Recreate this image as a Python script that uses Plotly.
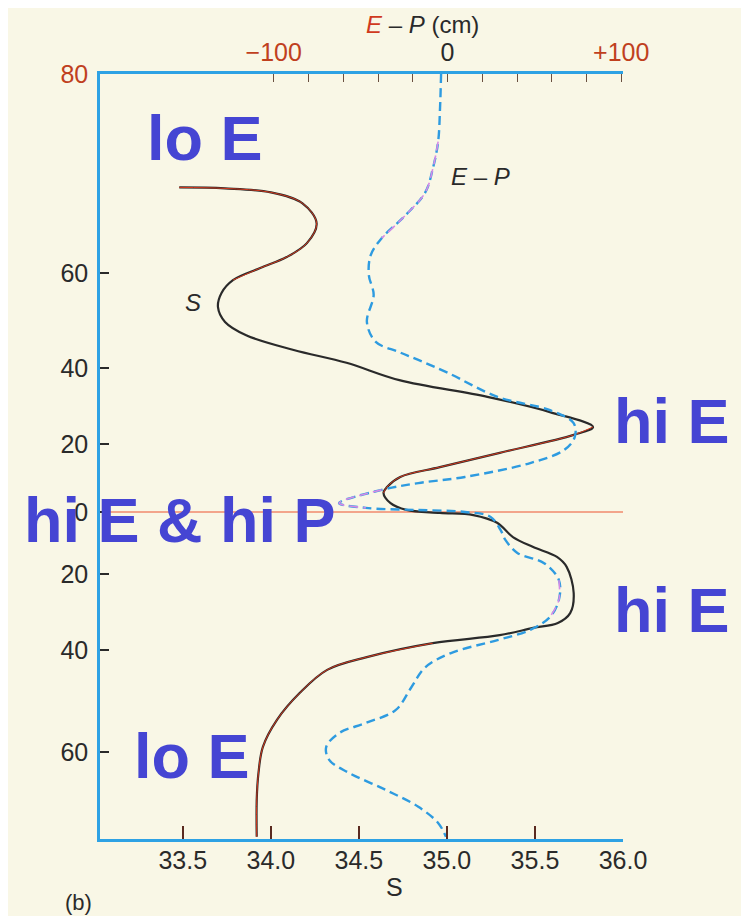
import numpy as np
import plotly.graph_objects as go

# ---------------- data ----------------
# latitude scale of the original figure (tick latitudes and their relative axis position)
LAT_TICKS = [-80, -60, -40, -20, 0, 20, 40, 60, 80]
SCALE_POS = [0.0, 0.1137, 0.2471, 0.3464, 0.4275, 0.5163, 0.6157, 0.7399, 1.0]
Y_TICK_LATS = [80, 60, 40, 20, 0, -20, -40, -60]
Y_TICK_TEXT = ["<span style='color:#c0401e'>80</span>", "60", "40", "20", "0", "20", "40", "60"]

S_TICKS = [33.5, 34.0, 34.5, 35.0, 35.5, 36.0]
S_TICK_TEXT = ["33.5", "34.0", "34.5", "35.0", "35.5", "36.0"]
EP_TICKS = [-100, -80, -60, -40, -20, 0, 20, 40, 60, 80, 100]
EP_TICK_TEXT = ["<span style='color:#c0401e'>−100</span>", "", "", "", "", "0", "", "", "", "",
                "<span style='color:#c0401e'>+100</span>"]

# surface salinity S vs latitude
s_lat = [68.6, 68.5, 68.1, 67.0, 65.0, 63.0, 61.6, 60.5, 58.5, 55.8, 52.8, 49.7,
         46.9, 43.8, 41.1, 36.8, 32.4, 28.4, 24.5, 22.4, 17.4, 13.2, 10.3, 7.35,
         5.6, 2.6, 0.6, -0.3, -1.0, -3.5, -8.1, -11.3, -14.5, -17.7, -25.0, -30.3,
         -32.9, -34.2, -36.1, -38.2, -41.4, -43.9, -48.4, -53.7, -59.0, -64.8,
         -71.0, -79.5]
s_val = [33.48, 33.74, 34.00, 34.18, 34.26, 34.205, 34.09, 33.94, 33.785, 33.72,
         33.70, 33.74, 33.86, 34.13, 34.43, 34.73, 35.23, 35.585, 35.83, 35.72,
         35.30, 34.96, 34.735, 34.66, 34.64, 34.68, 34.77, 34.96, 35.15, 35.285,
         35.375, 35.49, 35.625, 35.68, 35.72, 35.70, 35.63, 35.49, 35.30, 34.92,
         34.545, 34.32, 34.165, 34.035, 33.955, 33.93, 33.92, 33.92]

# evaporation minus precipitation (cm) vs latitude
ep_lat = [80.0, 76.6, 73.2, 70.6, 68.1, 65.8, 63.5, 61.8, 59.6, 55.4, 49.7, 45.5,
          43.4, 41.7, 38.7, 32.4, 28.9, 25.5, 21.8, 18.2, 14.4, 10.3, 8.5, 6.5,
          2.6, 1.2, 0.6, 0.0, -1.6, -5.8, -9.0, -13.2, -16.5, -21.6, -26.8, -31.3,
          -34.7, -37.4, -40.6, -43.4, -47.3, -51.8, -54.3, -56.3, -59.0, -61.8,
          -64.8, -68.7, -72.6, -76.3, -79.5]
ep_val = [-3.7, -4.3, -5.4, -8.3, -12.8, -24.2, -37.9, -44.2, -45.3, -42.5, -46.4,
          -41.3, -28.2, -16.8, 0.3, 28.8, 59.0, 72.6, 73.2, 67.0, 47.6, 10.0, -16.8,
          -37.9, -62.4, -47.0, -18.5, 10.0, 24.8, 30.5, 33.3, 40.2, 55.6, 64.1, 64.1,
          59.0, 47.6, 28.8, 2.0, -12.8, -20.8, -29.9, -47.0, -62.4, -69.8, -68.1,
          -56.7, -35.6, -16.8, -5.4, -0.9]


def ypos(lat):
    return np.interp(np.asarray(lat, dtype=float), LAT_TICKS, SCALE_POS)


BLUE_AX = "#2ea2e4"
DARK = "#2a2a2a"
FONT = "Liberation Sans, Arial"
ANN_BLUE = "#4545d3"

s_lat_a = np.array(s_lat)
s_val_a = np.array(s_val)
ep_lat_a = np.array(ep_lat)
ep_val_a = np.array(ep_val)

fig = go.Figure()

# E-P dashed line (top axis)
fig.add_trace(go.Scatter(x=ep_val_a, y=ypos(ep_lat_a), xaxis="x2", yaxis="y",
                         mode="lines", line=dict(color="#2e9be0", width=2.4, dash="9px,5px",
                                                 shape="spline", smoothing=1.0),
                         hoverinfo="skip", showlegend=False))
# pinkish tints on parts of E-P
for lo, hi in [(63.0, 74.0), (0.8, 7.0), (-33.0, -20.0)]:
    m = (ep_lat_a >= lo) & (ep_lat_a <= hi)
    fig.add_trace(go.Scatter(x=ep_val_a[m], y=ypos(ep_lat_a[m]), xaxis="x2", yaxis="y",
                             mode="lines", line=dict(color="#d58ae6", width=1.6, dash="9px,5px",
                                                     shape="spline", smoothing=1.0),
                             hoverinfo="skip", showlegend=False))

# salinity solid line (bottom axis)
fig.add_trace(go.Scatter(x=s_val_a, y=ypos(s_lat_a), xaxis="x", yaxis="y",
                         mode="lines", line=dict(color=DARK, width=2.2, shape="spline", smoothing=1.0),
                         hoverinfo="skip", showlegend=False))
for lo, hi in [(58.5, 68.6), (5.6, 24.5), (-80.0, -38.2)]:
    m = (s_lat_a >= lo) & (s_lat_a <= hi)
    fig.add_trace(go.Scatter(x=s_val_a[m], y=ypos(s_lat_a[m]), xaxis="x", yaxis="y",
                             mode="lines", line=dict(color="#d2381c", width=1.0, shape="spline", smoothing=1.0),
                             hoverinfo="skip", showlegend=False))

# equator line
fig.add_shape(type="line", xref="paper", yref="y", x0=0, x1=1,
              y0=float(ypos(0)), y1=float(ypos(0)), line=dict(color="#f08a6c", width=1.6), layer="below")

fig.update_layout(
    width=741, height=908,
    margin=dict(l=92, r=126, t=66, b=77),
    paper_bgcolor="#f9f7e6", plot_bgcolor="rgba(0,0,0,0)",
    font=dict(family=FONT, color=DARK, size=25),
    xaxis=dict(range=[33.03, 36.0], tickvals=S_TICKS, ticktext=S_TICK_TEXT,
               ticks="inside", ticklen=13, tickwidth=1.5, tickcolor="#5a2a20",
               showline=True, linecolor=BLUE_AX, linewidth=2.5, showgrid=False,
               zeroline=False, tickfont=dict(size=25, color=DARK), ticklabelstandoff=-3),
    xaxis2=dict(range=[-200, 101], overlaying="x", side="top", anchor="y",
                tickvals=EP_TICKS, ticktext=EP_TICK_TEXT,
                ticks="inside", ticklen=8, tickwidth=1.3, tickcolor="#6a5040",
                showline=True, linecolor=BLUE_AX, linewidth=2.5, showgrid=False,
                zeroline=False, tickfont=dict(size=25, color=DARK), ticklabelstandoff=0),
    yaxis=dict(range=[0, 1], tickvals=list(ypos(Y_TICK_LATS)), ticktext=Y_TICK_TEXT,
               ticks="inside", ticklen=9, tickwidth=1.5, tickcolor=DARK,
               showline=True, linecolor=BLUE_AX, linewidth=2.5, showgrid=False,
               zeroline=False, tickfont=dict(size=25, color=DARK), ticklabelstandoff=4),
)

ann = []
big = dict(family="Liberation Sans, Arial", size=63, color=ANN_BLUE)
ann.append(dict(text="<b>lo E</b>", x=0.2008, y=0.9163, font=big))
ann.append(dict(text="<b>hi E</b>", x=1.0937, y=0.5464, font=big))
ann.append(dict(text="<b>hi E</b>", x=1.0937, y=0.2993, font=big))
ann.append(dict(text="<b>hi E &amp; hi P</b>", x=0.153, y=0.417, font=big))
ann.append(dict(text="<b>lo E</b>", x=0.1759, y=0.1085, font=big))
ann.append(dict(text="<i>E</i> – <i>P</i>", x=0.7266, y=0.8654, font=dict(size=24, color=DARK)))
ann.append(dict(text="<i>S</i>", x=0.178, y=0.7007, font=dict(size=24, color=DARK)))
ann.append(dict(text="S", x=0.564, y=-0.0627, font=dict(size=25, color=DARK)))
ann.append(dict(text="(b)", x=-0.042, y=-0.0824, font=dict(size=22, color=DARK)))
ann.append(dict(text="<span style='color:#d03a1e'><i>E</i></span> – <i>P</i> (cm)",
                x=0.6157, y=1.065, font=dict(size=24, color=DARK)))
for a in ann:
    a.update(xref="paper", yref="paper", showarrow=False, xanchor="center", yanchor="middle")
fig.update_layout(annotations=ann)

fig.write_html("out.html")
